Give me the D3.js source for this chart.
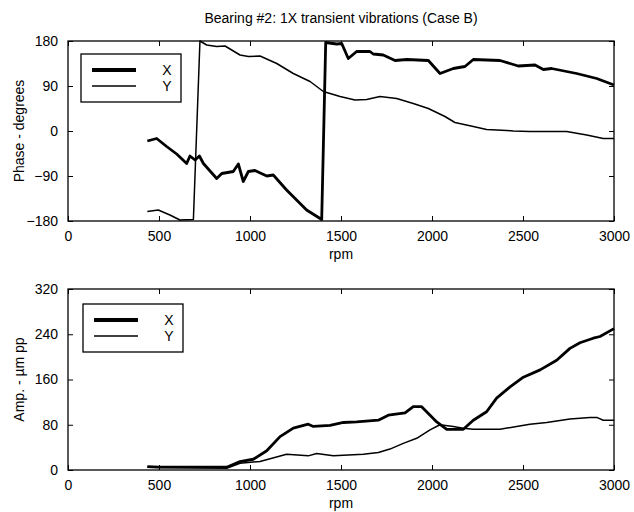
<!DOCTYPE html>
<html lang="en">
<head>
    <meta charset="UTF-8">
    <title>Bearing #2 transient vibrations</title>
    <script src="https://d3js.org/d3.v7.min.js"></script>
    <style>
        body { margin: 0; background: #fff; }
        text { font-family: "Liberation Sans", Arial, sans-serif; font-size: 14px; fill: #000; }
    </style>
</head>
<body>
<svg width="634" height="512"></svg>
<script>
    // phase, X (thick) and Y (thin), degrees vs rpm
    let phaseX = [[436,-20],[487,-15],[542,-31],[597,-46],[652,-65],[670,-50],[698,-58],[722,-50],[744,-65],
        [817,-95],[845,-85],[908,-81],[936,-66],[963,-101],[991,-81],[1027,-79],[1092,-90],[1128,-88],
        [1201,-118],[1311,-158],[1394,-177],[1416,177],[1476,174],[1504,175],[1540,145],[1586,159],[1659,159],
        [1677,154],[1732,152],[1797,141],[1861,143],[1980,141],[2044,115],[2117,125],[2181,129],[2227,143],
        [2374,141],[2474,130],[2566,132],[2612,123],[2657,125],[2795,115],[2905,105],[3000,92]];
    let phaseY = [[436,-161],[496,-158],[560,-168],[615,-178],[689,-177],[725,180],[762,172],[817,169],[863,170],
        [945,152],[991,149],[1055,150],[1147,135],[1238,115],[1330,99],[1403,79],[1495,69],[1577,62],[1641,63],
        [1714,69],[1806,65],[1897,55],[1980,45],[2071,29],[2126,17],[2227,9],[2300,3],[2410,1],[2447,0],
        [2538,-1],[2740,-1],[2850,-8],[2941,-15],[3000,-15]];
    // amplitude, um pp
    let ampX = [[436,6],[500,5],[872,5],[945,15],[1018,19],[1092,34],[1165,59],[1238,74],[1320,81],[1348,77],
        [1440,79],[1495,83],[1513,84],[1586,85],[1705,88],[1760,97],[1852,101],[1897,112],[1943,112],[2026,85],
        [2081,72],[2172,72],[2227,88],[2300,103],[2355,127],[2429,147],[2502,164],[2594,177],[2685,194],
        [2758,215],[2813,225],[2886,233],[2923,236],[3000,250]];
    let ampY = [[436,5],[872,3],[945,12],[1055,15],[1201,28],[1320,25],[1366,29],[1458,25],[1513,26],[1623,28],
        [1705,31],[1769,37],[1842,47],[1916,56],[1989,71],[2044,80],[2117,77],[2172,74],[2227,72],[2374,72],
        [2465,77],[2538,81],[2630,84],[2758,90],[2868,93],[2905,93],[2941,88],[3000,88]];

    let xTicks = [0, 500, 1000, 1500, 2000, 2500, 3000];
    let phaseTicks = [-180, -90, 0, 90, 180];
    let ampTicks = [0, 80, 160, 240, 320];
    let seriesNames = ["X", "Y"];

    let svg = d3.select("svg");
    let left = 68, right = 614;

    svg.append("text")
        .attr("x", 341).attr("y", 23)
        .attr("text-anchor", "middle")
        .text("Bearing #2: 1X transient vibrations (Case B)");

    function panel(top, bottom, yDomain, yTicks, ylabel, sx, sy, lg) {
        let x = d3.scaleLinear().domain([0, 3000]).range([left, right]);
        let y = d3.scaleLinear().domain(yDomain).range([bottom, top]);
        let g = svg.append("g");

        let line = d3.line().x(d => x(d[0])).y(d => y(d[1]));
        g.append("path").datum(sx).attr("d", line)
            .attr("fill", "none").attr("stroke", "#000").attr("stroke-width", 2.8).attr("stroke-linejoin", "round");
        g.append("path").datum(sy).attr("d", line)
            .attr("fill", "none").attr("stroke", "#000").attr("stroke-width", 1.5).attr("stroke-linejoin", "round");

        // axes, ticks inward on all sides
        let tl = 5;
        let fmt = d3.format("d");
        g.append("g").attr("transform", `translate(0,${bottom})`)
            .call(d3.axisBottom(x).tickValues(xTicks).tickSizeInner(-tl).tickSizeOuter(0).tickPadding(10).tickFormat(fmt))
            .call(a => a.select(".domain").remove());
        g.append("g").attr("transform", `translate(0,${top})`)
            .call(d3.axisTop(x).tickValues(xTicks).tickSizeInner(-tl).tickSizeOuter(0).tickFormat(""))
            .call(a => a.select(".domain").remove());
        g.append("g").attr("transform", `translate(${left},0)`)
            .call(d3.axisLeft(y).tickValues(yTicks).tickSizeInner(-tl).tickSizeOuter(0).tickPadding(10).tickFormat(fmt))
            .call(a => a.select(".domain").remove());
        g.append("g").attr("transform", `translate(${right},0)`)
            .call(d3.axisRight(y).tickValues(yTicks).tickSizeInner(-tl).tickSizeOuter(0).tickFormat(""))
            .call(a => a.select(".domain").remove());
        g.selectAll(".tick line").attr("stroke", "#000");
        g.selectAll(".tick text").style("font-size", "14px").attr("font-family", null);

        g.append("rect").attr("x", left).attr("y", top)
            .attr("width", right - left).attr("height", bottom - top)
            .attr("fill", "none").attr("stroke", "#000").attr("stroke-width", 1.3);

        g.append("text").attr("x", (left + right) / 2).attr("y", bottom + 38)
            .attr("text-anchor", "middle").text("rpm");
        g.append("text")
            .attr("transform", `translate(24,${(top + bottom) / 2}) rotate(-90)`)
            .attr("text-anchor", "middle").text(ylabel);

        // legend
        let lgG = g.append("g").attr("transform", `translate(${lg[0]},${lg[1]})`);
        lgG.append("rect").attr("width", 100).attr("height", 48)
            .attr("fill", "#fff").attr("stroke", "#000").attr("stroke-width", 1.3);
        seriesNames.forEach((n, i) => {
            let ly = 16 + i * 16;
            lgG.append("line").attr("x1", 11).attr("x2", 55).attr("y1", ly).attr("y2", ly)
                .attr("stroke", "#000").attr("stroke-width", i === 0 ? 4 : 1.5);
            lgG.append("text").attr("x", 86).attr("y", ly + 5)
                .attr("text-anchor", "middle").text(n);
        });
    }

    panel(41, 221, [-180, 180], phaseTicks, "Phase - degrees", phaseX, phaseY, [81, 54]);
    panel(289, 470, [0, 320], ampTicks, "Amp. - \u00b5m pp", ampX, ampY, [83, 304]);
</script>
</body>
</html>
